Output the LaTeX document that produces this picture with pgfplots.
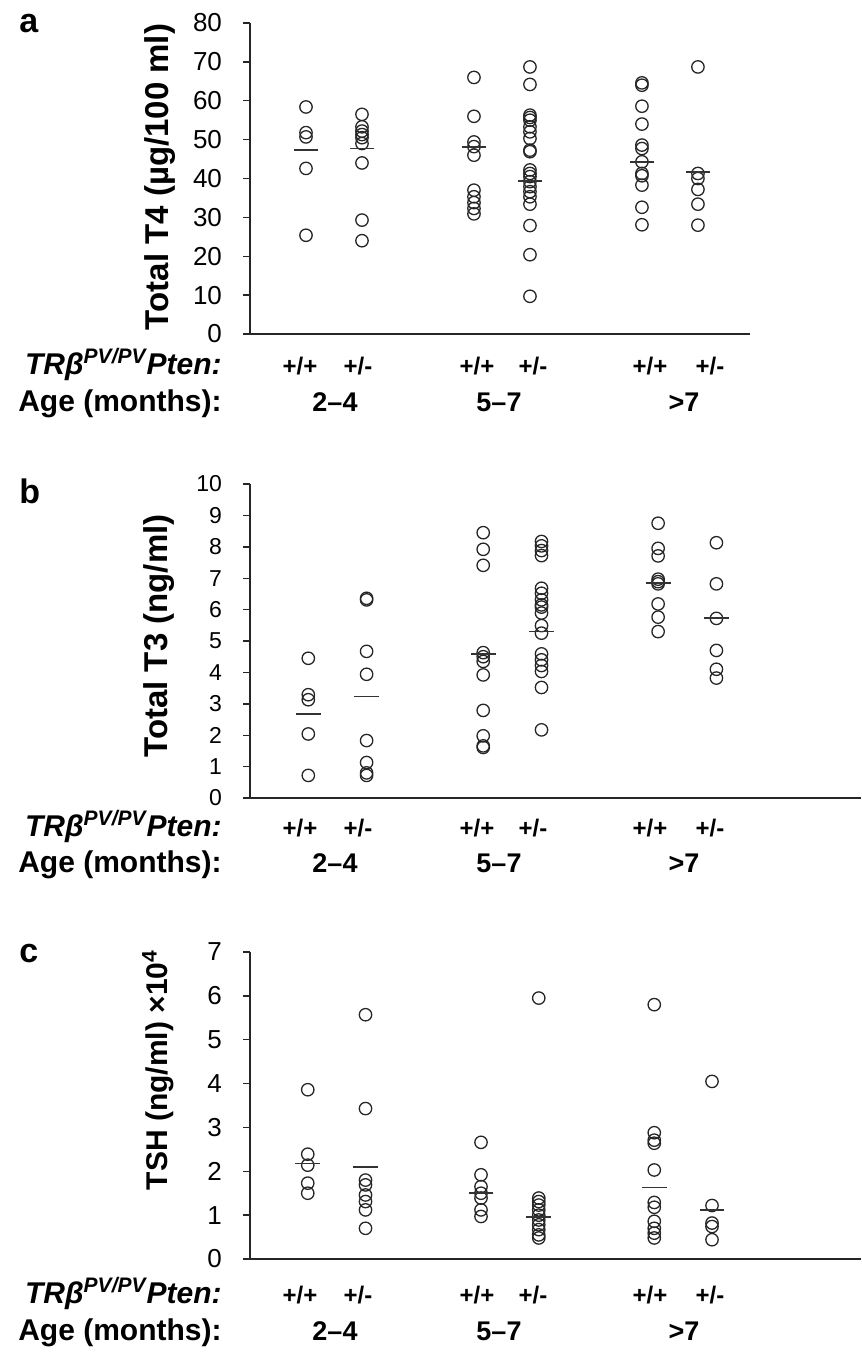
\documentclass[border=0pt]{standalone}
\usepackage{fontspec}
\setmainfont{Liberation Sans}
\usepackage{pgfplots}
\pgfplotsset{compat=1.18}
\usetikzlibrary{plotmarks}

\pgfplotsset{
  thyroid/.style={
    scale only axis, clip=false,
    axis lines*=left,
    axis line style={line width=0.9pt, black!85},
    xtick=\empty,
    tick align=outside,
    major tick length=3.5pt,
    ytick style={line width=0.7pt, black!85},
    xmin=0,
    /pgf/number format/assume math mode=true,
    yticklabel style={font=\fontsize{13}{13}\selectfont, xshift=-7pt},
  },
  dots/.style={only marks, mark=o, mark size=3.1pt,
    mark options={line width=0.65pt, draw=black!85}},
  mean/.style={only marks, mark=-, mark size=6.2pt,
    mark options={line width=0.9pt, draw=black!80}},
}

\newcommand{\geno}[3]{\node[anchor=base, font=\fontsize{12}{12}\selectfont\bfseries] at (#1,#2) {#3};}
\newcommand{\rows}[2]{%
  \node[anchor=base east, inner sep=0pt, font=\fontsize{15}{15}\selectfont\bfseries\itshape] at (222,#1) {TRβ\textsuperscript{PV/PV}Pten:};
  \node[anchor=base east, inner sep=0pt, font=\fontsize{15}{15}\selectfont\bfseries] at (222,#2) {Age (months):};
  \geno{300}{#1}{+/+}\geno{358}{#1}{+/-}
  \geno{477}{#1}{+/+}\geno{533}{#1}{+/-}
  \geno{650}{#1}{+/+}\geno{710}{#1}{+/-}
  \node[anchor=base, font=\fontsize{13.5}{13.5}\selectfont\bfseries] at (335,#2) {2–4};
  \node[anchor=base, font=\fontsize{13.5}{13.5}\selectfont\bfseries] at (499,#2) {5–7};
  \node[anchor=base, font=\fontsize{13.5}{13.5}\selectfont\bfseries] at (684,#2) {>7};
}

\begin{document}
\begin{tikzpicture}

% ---- panel a: total T4
\begin{axis}[thyroid, at={(125pt,-167pt)}, anchor=south west,
  width=250pt, height=155.5pt, xmax=8.93, ymin=0, ymax=80, ytick={0,10,...,80}]
\addplot[dots] coordinates {
(1,58.4)(1,51.8)(1,50.7)(1,42.6)(1,25.4)
(2,56.5)(2,53.3)(2,52.2)(2,51.3)(2,50.5)(2,49.0)(2,44.0)(2,29.3)(2,24.0)
(4,66.0)(4,56.0)(4,49.4)(4,48.2)(4,46.0)(4,37.0)(4,35.3)(4,33.8)(4,32.3)(4,30.9)
(5,68.7)(5,64.2)(5,56.3)(5,55.7)(5,55.0)(5,53.3)(5,52.0)(5,50.3)(5,47.3)(5,46.9)
(5,42.2)(5,41.3)(5,40.5)(5,39.2)(5,37.9)(5,36.6)(5,35.3)(5,33.4)(5,27.9)(5,20.4)(5,9.7)
(7,64.6)(7,64.0)(7,58.6)(7,54.0)(7,48.6)(7,47.7)(7,44.3)(7,41.3)(7,40.7)(7,38.3)(7,32.6)(7,28.1)
(8,68.7)(8,41.3)(8,40.0)(8,37.2)(8,33.4)(8,28.0)
};
\addplot[mean] coordinates {(1,47.3)(2,47.7)(4,48.2)(5,39.4)(7,44.3)(8,41.6)};
\end{axis}

% ---- panel b: total T3
\begin{axis}[thyroid, at={(125pt,-399pt)}, anchor=south west,
  width=305.5pt, height=157pt, xmax=10.48, ymin=0, ymax=10, ytick={0,1,...,10},
  yticklabel style={font=\fontsize{11.5}{11.5}\selectfont}]
\addplot[dots] coordinates {
(1,4.45)(1,3.29)(1,3.13)(1,2.04)(1,0.72)
(2,6.36)(2,6.31)(2,4.67)(2,3.94)(2,1.83)(2,1.13)(2,0.80)(2,0.72)
(4,8.45)(4,7.92)(4,7.41)(4,4.63)(4,4.50)(4,4.35)(4,3.92)(4,2.79)(4,1.98)(4,1.66)(4,1.61)
(5,8.17)(5,8.03)(5,7.88)(5,7.72)(5,6.68)(5,6.52)(5,6.31)(5,6.15)(5,6.08)(5,5.89)
(5,5.49)(5,5.25)(5,4.59)(5,4.40)(5,4.22)(5,4.03)(5,3.52)(5,2.17)
(7,8.75)(7,7.95)(7,7.71)(7,6.97)(7,6.89)(7,6.82)(7,6.18)(7,5.76)(7,5.30)
(8,8.13)(8,6.82)(8,5.72)(8,4.70)(8,4.10)(8,3.82)
};
\addplot[mean] coordinates {(1,2.67)(2,3.23)(4,4.58)(5,5.30)(7,6.86)(8,5.72)};
\end{axis}

% ---- panel c: TSH
\begin{axis}[thyroid, at={(125pt,-629.5pt)}, anchor=south west,
  width=305.5pt, height=153.5pt, xmax=10.58, ymin=0, ymax=7, ytick={0,1,...,7}]
\addplot[dots] coordinates {
(1,3.86)(1,2.39)(1,2.14)(1,1.73)(1,1.50)
(2,5.57)(2,3.43)(2,1.80)(2,1.69)(2,1.46)(2,1.31)(2,1.12)(2,0.70)
(4,2.66)(4,1.92)(4,1.65)(4,1.50)(4,1.39)(4,1.12)(4,0.97)
(5,5.95)(5,1.39)(5,1.31)(5,1.23)(5,1.12)(5,1.00)(5,0.89)(5,0.78)(5,0.67)(5,0.55)(5,0.48)
(7,5.80)(7,2.88)(7,2.71)(7,2.64)(7,2.03)(7,1.29)(7,1.18)(7,0.86)(7,0.70)(7,0.59)(7,0.48)
(8,4.05)(8,1.22)(8,0.82)(8,0.74)(8,0.44)
};
\addplot[mean] coordinates {(1,2.18)(2,2.09)(4,1.50)(5,0.95)(7,1.63)(8,1.12)};
\end{axis}

\begin{scope}[x=0.5pt,y=-0.5pt]
\path[use as bounding box] (0,0) rectangle (861,1353);
\node[anchor=base, rotate=90, font=\fontsize{16.5}{16.5}\selectfont\bfseries] at (168,177) {Total T4 (µg/100 ml)};
\node[anchor=base west, inner sep=0pt, font=\fontsize{17}{17}\selectfont\bfseries] at (19,33) {a};
\rows{374}{411}
\node[anchor=base, rotate=90, font=\fontsize{16.5}{16.5}\selectfont\bfseries] at (167,636) {Total T3 (ng/ml)};
\node[anchor=base west, inner sep=0pt, font=\fontsize{17}{17}\selectfont\bfseries] at (19,503) {b};
\rows{836}{872}
\node[anchor=base, rotate=90, font=\fontsize{15}{15}\selectfont\bfseries] at (167,1070) {TSH (ng/ml) ×10\textsuperscript{4}};
\node[anchor=base west, inner sep=0pt, font=\fontsize{17}{17}\selectfont\bfseries] at (19,962) {c};
\rows{1303}{1340}
\end{scope}
\end{tikzpicture}
\end{document}
